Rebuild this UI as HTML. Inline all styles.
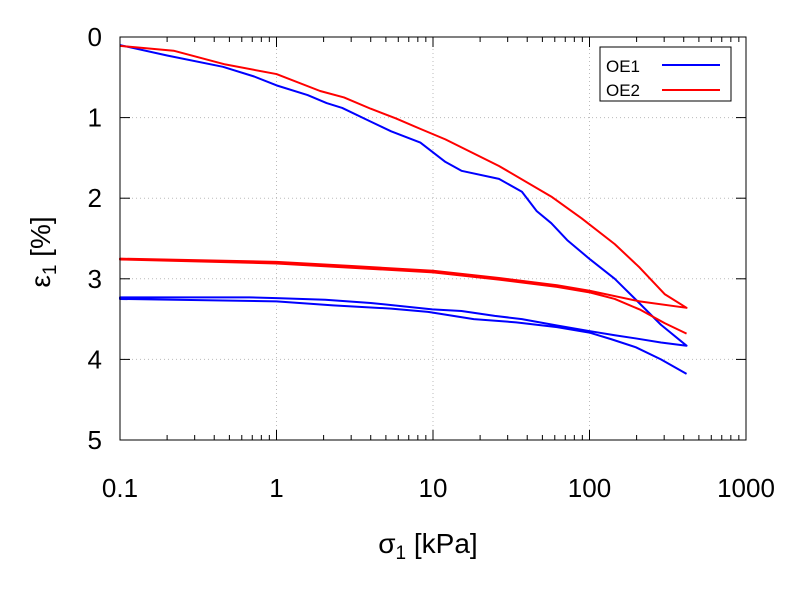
<!DOCTYPE html>
<html><head><meta charset="utf-8"><style>
body{margin:0;background:#fff}
svg text{font-family:"Liberation Sans",sans-serif;fill:#000}
</style></head><body>
<svg id="chart" width="800" height="600" xmlns="http://www.w3.org/2000/svg">
<g id="grid"></g><g id="series"></g><g id="axes"></g>
<text x="50" y="252" font-size="28" text-anchor="middle" transform="rotate(-90 50 252)">ε<tspan font-size="19" dy="6">1</tspan><tspan dy="-6"> [%]</tspan></text>
<text x="428" y="553" font-size="28" text-anchor="middle">σ<tspan font-size="19" dy="6">1</tspan><tspan dy="-6"> [kPa]</tspan></text>
<g>
<rect x="600" y="47" width="131" height="54" fill="#fff" stroke="#000" stroke-width="1"/>
<g><text x="606" y="72" font-size="17">OE1</text><line x1="662" y1="65" x2="720" y2="65" stroke="#0000ff" stroke-width="2"/></g>
<g><text x="606" y="96" font-size="17">OE2</text><line x1="662" y1="90" x2="720" y2="90" stroke="#ff0000" stroke-width="2"/></g>
</g>
</svg>
<script>
const xTicks=[0.1,1,10,100,1000];
const xTickLabels=["0.1","1","10","100","1000"];
const yTicks=[0,1,2,3,4,5];
const oe1Sigma=[0.1,0.2,0.455,0.72,1,1.58,2.09,2.63,4,5.4,8.3,12,15.2,26.4,37,46,57,72,101,145,198,286,417,286,198,145,101,62,37,24.8,15.2,9.9,4,2.05,1,0.67,0.1,0.1,1,2.3,5.4,9.3,18.2,34,62,101,138,198,286,417];
const oe1Strain=[0.10,0.23,0.37,0.49,0.60,0.72,0.82,0.88,1.05,1.17,1.31,1.55,1.66,1.76,1.92,2.16,2.31,2.52,2.76,3.0,3.26,3.57,3.83,3.79,3.74,3.70,3.65,3.58,3.50,3.46,3.40,3.38,3.30,3.26,3.24,3.23,3.23,3.25,3.28,3.33,3.37,3.41,3.50,3.54,3.60,3.67,3.75,3.85,4.0,4.18];
const oe2Sigma=[0.1,0.22,0.47,1,1.9,2.7,4,5.8,8.3,12,26.4,57,89,145,209,302,417,209,101,62,26.4,10,2.93,1,0.1,0.1,1,10,26.4,62,101,145,209,302,417];
const oe2Strain=[0.11,0.17,0.34,0.46,0.67,0.75,0.89,1.01,1.14,1.27,1.60,1.98,2.25,2.57,2.86,3.19,3.36,3.28,3.15,3.08,2.99,2.90,2.84,2.79,2.75,2.76,2.81,2.92,3.01,3.10,3.17,3.25,3.38,3.55,3.68];
const L=120,R=746,T=37,B=440;
const xs=v=>L+(Math.log10(v)+1)/4*(R-L);
const ys=v=>T+v/5*(B-T);
const NS="http://www.w3.org/2000/svg";
function mk(tag,attrs,parent){const e=document.createElementNS(NS,tag);for(const k in attrs)e.setAttribute(k,attrs[k]);parent.appendChild(e);return e;}
const grid=document.getElementById('grid'),axes=document.getElementById('axes'),ser=document.getElementById('series');
xTicks.forEach((v,i)=>{const x=xs(v);
 if(i>0&&i<xTicks.length-1){const g=mk('line',{x1:x,y1:T,x2:x,y2:B,stroke:'#bbb','stroke-dasharray':'1,3'},grid);
 
 }
 mk('line',{x1:x,y1:B,x2:x,y2:B-10,stroke:'#000'},axes);mk('line',{x1:x,y1:T,x2:x,y2:T+10,stroke:'#000'},axes);
 const t=mk('text',{x:x,y:497,'font-size':26,'text-anchor':'middle'},axes);t.textContent=xTickLabels[i];
 
 
 if(i<xTicks.length-1)for(let m=2;m<10;m++){const mx=xs(v*m);mk('line',{x1:mx,y1:B,x2:mx,y2:B-5,stroke:'#000'},axes);mk('line',{x1:mx,y1:T,x2:mx,y2:T+5,stroke:'#000'},axes);}
});
yTicks.forEach(v=>{const y=ys(v);
 if(v>0&&v<5){const g=mk('line',{x1:L,y1:y,x2:R,y2:y,stroke:'#bbb','stroke-dasharray':'1,3'},grid);
 
 }
 mk('line',{x1:L,y1:y,x2:L+10,y2:y,stroke:'#000'},axes);mk('line',{x1:R,y1:y,x2:R-10,y2:y,stroke:'#000'},axes);
 const t=mk('text',{x:102,y:y+9,'font-size':26,'text-anchor':'end'},axes);t.textContent=v;
 
 
});
const fr=mk('rect',{x:L,y:T,width:R-L,height:B-T,fill:'none',stroke:'#000','stroke-width':1},axes);


function line(sx,sy,col,name){const p=mk('polyline',{points:sx.map((s,i)=>xs(s)+','+ys(sy[i])).join(' '),fill:'none',stroke:col,'stroke-width':2,'stroke-linejoin':'round'},ser);
 
 }
line(oe1Sigma,oe1Strain,'#0000ff','series-oe1');
line(oe2Sigma,oe2Strain,'#ff0000','series-oe2');
</script>
</body></html>
